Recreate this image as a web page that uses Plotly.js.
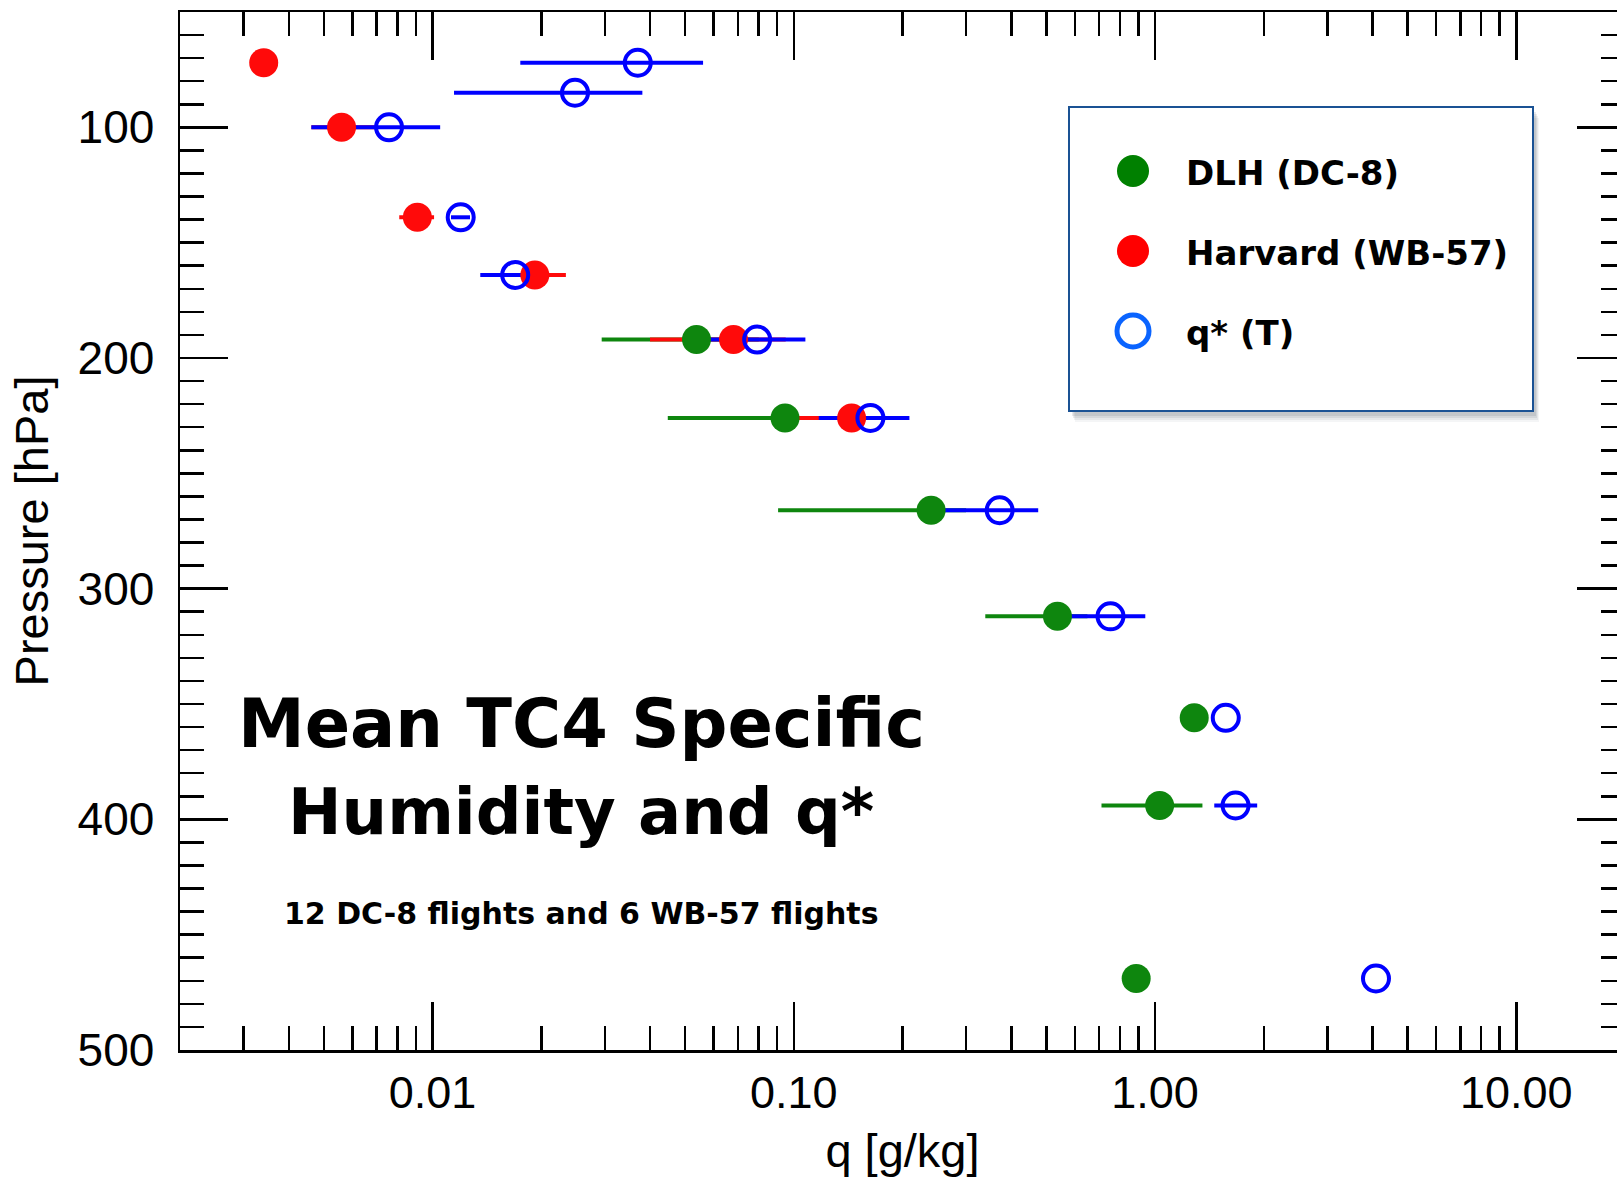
<!DOCTYPE html>
<html>
<head>
<meta charset="utf-8">
<script src="https://cdn.plot.ly/plotly-3.0.1.min.js"></script>
<style>
  html, body { margin: 0; padding: 0; background: #fff; overflow: hidden; }
  #chart { width: 1625px; height: 1177px; }
</style>
</head>
<body>
<div id="chart"></div>
<script>
// ---------------- data ----------------
// DLH (DC-8)
const dlhP  = [192, 226, 266, 312, 356, 394, 469];
const dlhQ  = [0.0538, 0.0946, 0.240, 0.537, 1.284, 1.030, 0.887];
const dlhLo = [0.0294, 0.0448, 0.0905, 0.339, null, 0.711, null];
const dlhHi = [0.080, 0.130, 0.300, 0.650, null, 1.353, null];

// Harvard (WB-57)
const harP  = [72, 100, 139, 164, 192, 226];
const harQ  = [0.00341, 0.0056, 0.00908, 0.0192, 0.0681, 0.1446];
const harLo = [null, 0.00462, 0.00809, 0.0165, 0.040, 0.095];
const harHi = [null, 0.0070, 0.0101, 0.0234, 0.095, 0.190];

// q* (T)
const qsP  = [72, 85, 100, 139, 164, 192, 226, 266, 312, 356, 394, 469];
const qsQ  = [0.0370, 0.0248, 0.00758, 0.01197, 0.01694, 0.0792, 0.163, 0.3715, 0.753, 1.570, 1.671, 4.09];
const qsLo = [0.0175, 0.01147, 0.00462, 0.01125, 0.01356, 0.055, 0.1173, 0.25, 0.56, null, 1.459, null];
const qsHi = [0.0561, 0.0381, 0.0105, 0.0127, 0.0195, 0.1077, 0.209, 0.475, 0.940, null, 1.918, null];

// axis ticks
const xTickVals = [0.01, 0.1, 1, 10];
const xTickText = ['0.01', '0.10', '1.00', '10.00'];
const xMinorVals = [0.003,0.004,0.005,0.006,0.007,0.008,0.009,
                    0.02,0.03,0.04,0.05,0.06,0.07,0.08,0.09,
                    0.2,0.3,0.4,0.5,0.6,0.7,0.8,0.9,
                    2,3,4,5,6,7,8,9];
const yTickVals = [100, 200, 300, 400, 500];
const yTickText = ['100', '200', '300', '400', '500'];

const legendNames = ['DLH (DC-8)', 'Harvard (WB-57)', 'q* (T)'];
const titleLines = ['Mean TC4 Specific', 'Humidity and q*'];
const subtitle = '12 DC-8 flights and 6 WB-57 flights';

// ---------------- styles ----------------
const GREEN = '#0e860e', RED = '#ff0a0a', BLUE = '#0000ff', LEGBLUE = '#0a64ff';
const AXF = 'Liberation Sans, Arial, Helvetica, sans-serif';
const TXF = 'DejaVu Sans, Verdana, sans-serif';

function plus(q, hi)  { return q.map((v, i) => hi[i] == null ? NaN : hi[i] - v); }
function minus(q, lo) { return q.map((v, i) => lo[i] == null ? NaN : v - lo[i]); }

function barTrace(p, q, lo, hi, color) {
  return {
    type: 'scatter', mode: 'markers', x: q, y: p, hoverinfo: 'skip', showlegend: false,
    marker: { size: 1, opacity: 0, color: color },
    error_x: { type: 'data', symmetric: false, array: plus(q, hi), arrayminus: minus(q, lo),
               color: color, thickness: 4, width: 0 }
  };
}
function ptTrace(p, q, marker, name) {
  return { type: 'scatter', mode: 'markers', x: q, y: p, name: name, hoverinfo: 'skip',
           showlegend: false, marker: marker };
}

const traces = [
  barTrace(dlhP, dlhQ, dlhLo, dlhHi, GREEN),
  barTrace(harP, harQ, harLo, harHi, RED),
  barTrace(qsP, qsQ, qsLo, qsHi, BLUE),
  ptTrace(dlhP, dlhQ, { symbol: 'circle', size: 29, color: GREEN, line: { width: 0 } }, legendNames[0]),
  ptTrace(harP, harQ, { symbol: 'circle', size: 29, color: RED, line: { width: 0 } }, legendNames[1]),
  ptTrace(qsP, qsQ, { symbol: 'circle-open', size: 26, color: BLUE, line: { width: 4, color: BLUE } }, legendNames[2])
];

// pixel -> paper helpers for decorations (plot area 180..1625 x 12..1050)
const X = px => (px - 180) / 1445;
const Y = py => (1050 - py) / 1038;

const shapes = [];
// legend shadow
[[6, 11, 0.05], [5, 9, 0.07], [4, 7, 0.09], [3, 5, 0.10]].forEach(s => {
  shapes.push({ type: 'rect', xref: 'paper', yref: 'paper',
    x0: X(1069 + s[0]), x1: X(1533 + s[0]), y0: Y(411 + s[1]), y1: Y(107 + s[1]),
    fillcolor: 'rgba(40,50,70,' + s[2] + ')', line: { width: 0 } });
});
shapes.push({ type: 'rect', xref: 'paper', yref: 'paper',
  x0: X(1069), x1: X(1533), y0: Y(411), y1: Y(107),
  fillcolor: '#ffffff', line: { color: '#1a5294', width: 2 } });
// legend symbols
const legY = [171, 251, 331];
shapes.push({ type: 'circle', xref: 'paper', yref: 'paper', xsizemode: 'pixel', ysizemode: 'pixel',
  xanchor: X(1133), yanchor: Y(legY[0]), x0: -16, x1: 16, y0: -16, y1: 16,
  fillcolor: '#008000', line: { width: 0 } });
shapes.push({ type: 'circle', xref: 'paper', yref: 'paper', xsizemode: 'pixel', ysizemode: 'pixel',
  xanchor: X(1133), yanchor: Y(legY[1]), x0: -16, x1: 16, y0: -16, y1: 16,
  fillcolor: '#ff0000', line: { width: 0 } });
shapes.push({ type: 'circle', xref: 'paper', yref: 'paper', xsizemode: 'pixel', ysizemode: 'pixel',
  xanchor: X(1133), yanchor: Y(legY[2]), x0: -16, x1: 16, y0: -16, y1: 16,
  fillcolor: 'rgba(0,0,0,0)', line: { width: 5, color: LEGBLUE } });

const annotations = [];
legendNames.forEach((t, i) => annotations.push({
  xref: 'paper', yref: 'paper', x: X(1184), y: Y(legY[i] + 2), xanchor: 'left', yanchor: 'middle',
  text: t, showarrow: false, font: { family: TXF, size: 34, color: '#000', weight: 'bold' }
}));
annotations.push({ xref: 'paper', yref: 'paper', x: X(581), y: Y(724), xanchor: 'center', yanchor: 'middle',
  text: titleLines[0], showarrow: false, font: { family: TXF, size: 67, color: '#000', weight: 'bold' } });
annotations.push({ xref: 'paper', yref: 'paper', x: X(581), y: Y(812), xanchor: 'center', yanchor: 'middle',
  text: titleLines[1], showarrow: false, font: { family: TXF, size: 64, color: '#000', weight: 'bold' } });
annotations.push({ xref: 'paper', yref: 'paper', x: X(581), y: Y(913), xanchor: 'center', yanchor: 'middle',
  text: subtitle, showarrow: false, font: { family: TXF, size: 30, color: '#000', weight: 'bold' } });

const layout = {
  width: 1625, height: 1177,
  margin: { l: 180, r: 0, t: 12, b: 127, pad: 0 },
  paper_bgcolor: '#ffffff', plot_bgcolor: '#ffffff',
  showlegend: false,
  hovermode: false,
  xaxis: {
    type: 'log', range: [Math.log10(0.002), Math.log10(20)],
    tickmode: 'array', tickvals: xTickVals, ticktext: xTickText,
    ticks: 'inside', ticklen: 48, tickwidth: 2.5, tickcolor: '#000',
    minor: { tickmode: 'array', tickvals: xMinorVals, ticks: 'inside', ticklen: 24, tickwidth: 2.5,
             tickcolor: '#000', showgrid: false },
    showline: true, linecolor: '#000', linewidth: 2.5, mirror: 'ticks',
    showgrid: false, zeroline: false,
    tickfont: { family: AXF, size: 45, color: '#000' },
    ticklabelstandoff: 1,
    title: { text: 'q [g/kg]', font: { family: AXF, size: 47, color: '#000' }, standoff: 25 }
  },
  yaxis: {
    range: [500, 50],
    tickmode: 'array', tickvals: yTickVals, ticktext: yTickText,
    ticks: 'inside', ticklen: 48, tickwidth: 2.5, tickcolor: '#000',
    minor: { dtick: 10, tick0: 0, ticks: 'inside', ticklen: 24, tickwidth: 2.5, tickcolor: '#000', showgrid: false },
    showline: true, linecolor: '#000', linewidth: 2.5, mirror: 'ticks',
    showgrid: false, zeroline: false,
    tickfont: { family: AXF, size: 46, color: '#000' },
    ticklabelstandoff: 14,
    title: { text: 'Pressure [hPa]', font: { family: AXF, size: 47, color: '#000' }, standoff: 14 }
  },
  shapes: shapes,
  annotations: annotations
};

Plotly.newPlot('chart', traces, layout, { staticPlot: true, displayModeBar: false });
</script>
</body>
</html>
